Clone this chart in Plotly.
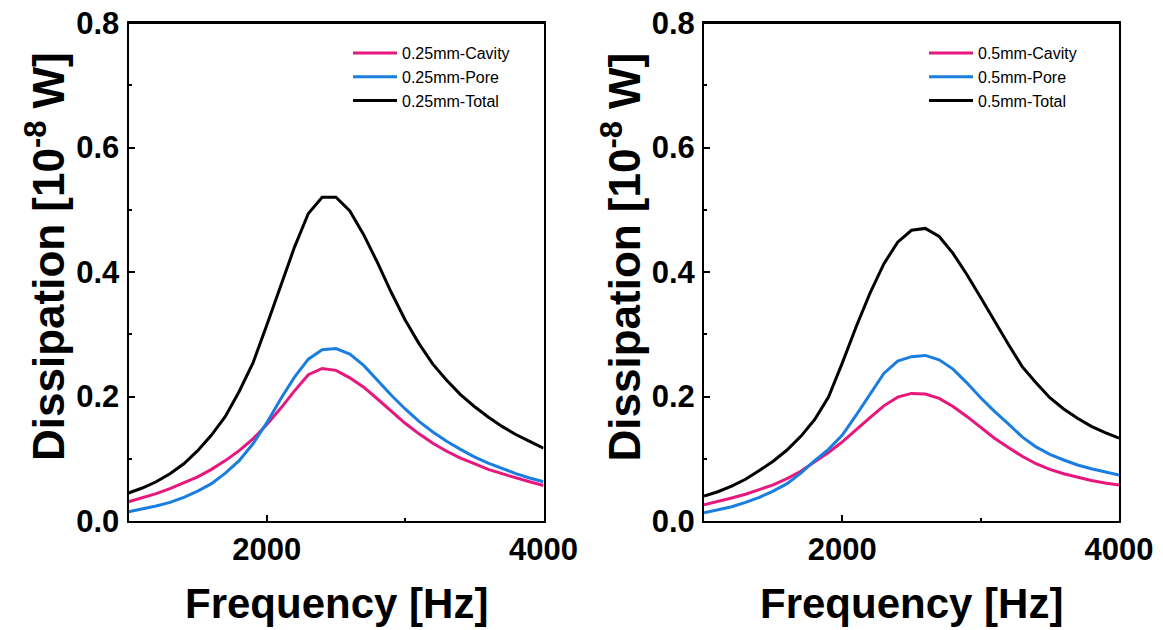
import plotly.graph_objects as go

freq = [1000, 1100, 1200, 1300, 1400, 1500, 1600, 1700, 1800, 1900,
        2000, 2100, 2200, 2300, 2400, 2500, 2600, 2700, 2800, 2900,
        3000, 3100, 3200, 3300, 3400, 3500, 3600, 3700, 3800, 3900, 4000]

# 0.25 mm
cavity_025 = [0.031, 0.037, 0.044, 0.052, 0.061, 0.071, 0.083, 0.097, 0.113, 0.132,
              0.155, 0.181, 0.209, 0.235, 0.245, 0.242, 0.230, 0.215, 0.196, 0.176,
              0.157, 0.140, 0.125, 0.112, 0.101, 0.092, 0.083, 0.076, 0.069, 0.063, 0.057]
pore_025 = [0.015, 0.019, 0.024, 0.030, 0.038, 0.048, 0.060, 0.077, 0.097, 0.124,
            0.158, 0.196, 0.231, 0.260, 0.275, 0.277, 0.268, 0.250, 0.226, 0.202,
            0.180, 0.160, 0.143, 0.128, 0.115, 0.103, 0.093, 0.084, 0.076, 0.069, 0.063]
total_025 = [0.045, 0.053, 0.063, 0.076, 0.092, 0.113, 0.138, 0.168, 0.208, 0.254,
             0.315, 0.378, 0.440, 0.494, 0.520, 0.520, 0.498, 0.460, 0.415, 0.367,
             0.323, 0.285, 0.252, 0.226, 0.203, 0.184, 0.167, 0.152, 0.139, 0.128, 0.117]

# 0.5 mm
cavity_05 = [0.026, 0.031, 0.037, 0.043, 0.050, 0.058, 0.068, 0.080, 0.095, 0.110,
             0.127, 0.147, 0.166, 0.185, 0.199, 0.205, 0.204, 0.197, 0.184, 0.168,
             0.150, 0.133, 0.118, 0.104, 0.092, 0.083, 0.076, 0.070, 0.065, 0.061, 0.058]
pore_05 = [0.013, 0.018, 0.023, 0.030, 0.038, 0.048, 0.060, 0.077, 0.097, 0.115,
           0.138, 0.170, 0.203, 0.237, 0.257, 0.264, 0.266, 0.259, 0.244, 0.222,
           0.198, 0.176, 0.156, 0.135, 0.119, 0.107, 0.098, 0.090, 0.084, 0.079, 0.074]
total_05 = [0.040, 0.047, 0.056, 0.067, 0.081, 0.096, 0.114, 0.136, 0.163, 0.199,
            0.254, 0.312, 0.366, 0.413, 0.448, 0.467, 0.470, 0.457, 0.430, 0.396,
            0.359, 0.321, 0.284, 0.248, 0.222, 0.198, 0.180, 0.165, 0.152, 0.142, 0.133]

names_025 = ["0.25mm-Cavity", "0.25mm-Pore", "0.25mm-Total"]
names_05 = ["0.5mm-Cavity", "0.5mm-Pore", "0.5mm-Total"]
colors = ["#E8177D", "#1A7EE0", "#000000"]

# page body has an 8px margin: figure placed at (8, 8)
OFF = 8
W, H = 1163 - OFF, 630 - OFF
FONT = "Liberation Sans, Arial, sans-serif"


def fx(p):
    return (p - OFF) / W


def fy(p):
    return 1 - (p - OFF) / H


fig = go.Figure()
for name, ys, c in zip(names_025, [cavity_025, pore_025, total_025], colors):
    fig.add_trace(go.Scatter(x=freq, y=ys, mode="lines", name=name,
                             line=dict(color=c, width=3), xaxis="x", yaxis="y",
                             legend="legend"))
for name, ys, c in zip(names_05, [cavity_05, pore_05, total_05], colors):
    fig.add_trace(go.Scatter(x=freq, y=ys, mode="lines", name=name,
                             line=dict(color=c, width=3), xaxis="x2", yaxis="y2",
                             legend="legend2"))

px_l = (128.5, 543.5)
px_r = (704.0, 1119.0)
py = (23.0, 521.0)
ydom = [fy(py[1]), fy(py[0])]

tickfont = dict(family=FONT, size=31, color="black", weight="bold")
xcommon = dict(range=[1000, 4000], tick0=0, dtick=2000, ticks="inside", ticklen=6,
               tickwidth=2, tickcolor="black", showline=True, linewidth=2,
               linecolor="black", mirror=True, showgrid=False, zeroline=False,
               tickfont=tickfont, ticklabelstandoff=0, automargin=False,
               ticklabeloverflow="allow",
               minor=dict(tick0=0, dtick=1000, ticks="inside", ticklen=3,
                          tickwidth=2, tickcolor="black", showgrid=False))
ycommon = dict(range=[0, 0.8], tick0=0, dtick=0.2, tickformat=".1f", ticks="inside",
               ticklen=6, tickwidth=2, tickcolor="black", showline=True, linewidth=2,
               linecolor="black", mirror=True, showgrid=False, zeroline=False,
               tickfont=tickfont, ticklabelstandoff=1, automargin=False,
               ticklabeloverflow="allow",
               minor=dict(tick0=0, dtick=0.1, ticks="inside", ticklen=3,
                          tickwidth=2, tickcolor="black", showgrid=False))

legfont = dict(family=FONT, size=16, color="black")

fig.update_layout(
    width=W, height=H,
    margin=dict(l=0, r=0, t=0, b=0, autoexpand=False),
    paper_bgcolor="white", plot_bgcolor="white",
    hovermode=False,
    xaxis=dict(domain=[fx(px_l[0]), fx(px_l[1])], anchor="y", **xcommon),
    yaxis=dict(domain=ydom, anchor="x", **ycommon),
    xaxis2=dict(domain=[fx(px_r[0]), fx(px_r[1])], anchor="y2", **xcommon),
    yaxis2=dict(domain=ydom, anchor="x2", **ycommon),
    legend=dict(x=fx(348), y=fy(36), xanchor="left", yanchor="top",
                bgcolor="rgba(0,0,0,0)", font=legfont, tracegroupgap=0,
                itemwidth=44),
    legend2=dict(x=fx(924), y=fy(36), xanchor="left", yanchor="top",
                 bgcolor="rgba(0,0,0,0)", font=legfont, tracegroupgap=0,
                 itemwidth=44),
    showlegend=True,
)

# plot frame top edge, drawn on the paper at each domain's top
for x0, x1 in [px_l, px_r]:
    fig.add_shape(type="rect", xref="paper", yref="paper",
                  x0=fx(x0 - 1), x1=fx(x1 + 1), y0=fy(py[0] + 1), y1=fy(py[0] - 1),
                  line=dict(width=0), fillcolor="black", layer="above")

xtitle_font = dict(family=FONT, size=42, color="black")
ytitle_font = dict(family=FONT, size=44, color="black")
ann = []
for cx in [(px_l[0] + px_l[1]) / 2, (px_r[0] + px_r[1]) / 2]:
    ann.append(dict(text="<b>Frequency [Hz]</b>", x=fx(cx), y=fy(603),
                    xref="paper", yref="paper", showarrow=False,
                    xanchor="center", yanchor="middle", font=xtitle_font))
for cx in [45, 45 + (px_r[0] - px_l[0])]:
    ann.append(dict(text="<b>Dissipation [10<sup>-8</sup> W]</b>", x=fx(cx),
                    y=fy(257), xref="paper", yref="paper", showarrow=False,
                    textangle=-90, xanchor="center", yanchor="middle",
                    font=ytitle_font))
fig.update_layout(annotations=ann)

fig.write_html("out.html", config={"displayModeBar": False})
